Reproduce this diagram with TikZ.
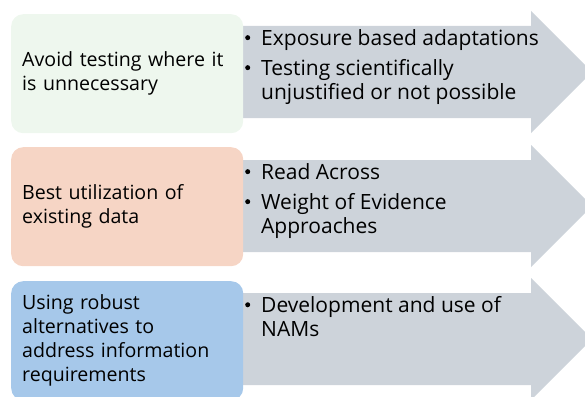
\documentclass[tikz,border=0pt]{standalone}
\usepackage{fontspec}
\setmainfont{Open Sans}
\definecolor{greenbox}{HTML}{EEF7EE}
\definecolor{peachbox}{HTML}{F6D5C5}
\definecolor{bluebox}{HTML}{A6C8EA}
\definecolor{arrowgray}{HTML}{CDD3DA}
% round bullet followed by the item text indent
\newcommand{\bitem}{\makebox[16pt][l]{\raisebox{5pt}{\tikz\fill (0,0) circle (2.5pt);}}}
\newcommand{\bindent}{\hspace*{16pt}}
\begin{document}
\begin{tikzpicture}[x=1pt,y=-1pt,
  lbox/.style={rounded corners=12pt, anchor=north west, minimum width=232pt,
    minimum height=119pt, text width=210pt, inner xsep=11pt, inner ysep=0pt,
    align=left, font=\fontsize{19.6}{24}\selectfont, text=black},
  band/.style={fill=arrowgray},
  items/.style={anchor=north west, inner sep=0pt, align=left,
    font=\fontsize{21}{24}\selectfont, text=black}
]
\useasboundingbox (0,0) rectangle (585,396);
\clip (0,0) rectangle (585,396);

% grey block arrows, one per row
\fill[band] (243,26) -- (531,26) -- (531,11) -- (592,72) -- (531,133) -- (531,118) -- (243,118) -- cycle;
\fill[band] (243,160) -- (531,160) -- (531,145) -- (592,206) -- (531,267) -- (531,252) -- (243,252) -- cycle;
\fill[band] (243,293) -- (531,293) -- (531,278) -- (592,339) -- (531,400) -- (531,385) -- (243,385) -- cycle;

% left-hand principle boxes
\node[lbox, fill=greenbox] (avoid) at (11,14) {Avoid testing where it\\is unnecessary};
\node[lbox, fill=peachbox] (reuse) at (11,147) {Best utilization of\\existing data};
\node[lbox, fill=bluebox] (alt) at (11,281) {Using robust\\alternatives to\\address information\\requirements};

% bullet lists inside the arrows
\node[items] (avoidlist) at (245,29) {\bitem Exposure based adaptations\\[6pt]\bitem Testing scientifically\\\bindent unjustified or not possible};
\node[items] (reuselist) at (245,163) {\bitem Read Across\\[6pt]\bitem Weight of Evidence\\\bindent Approaches};
\node[items] (altlist) at (245,296) {\bitem Development and use of\\\bindent NAMs};
\end{tikzpicture}
\end{document}
